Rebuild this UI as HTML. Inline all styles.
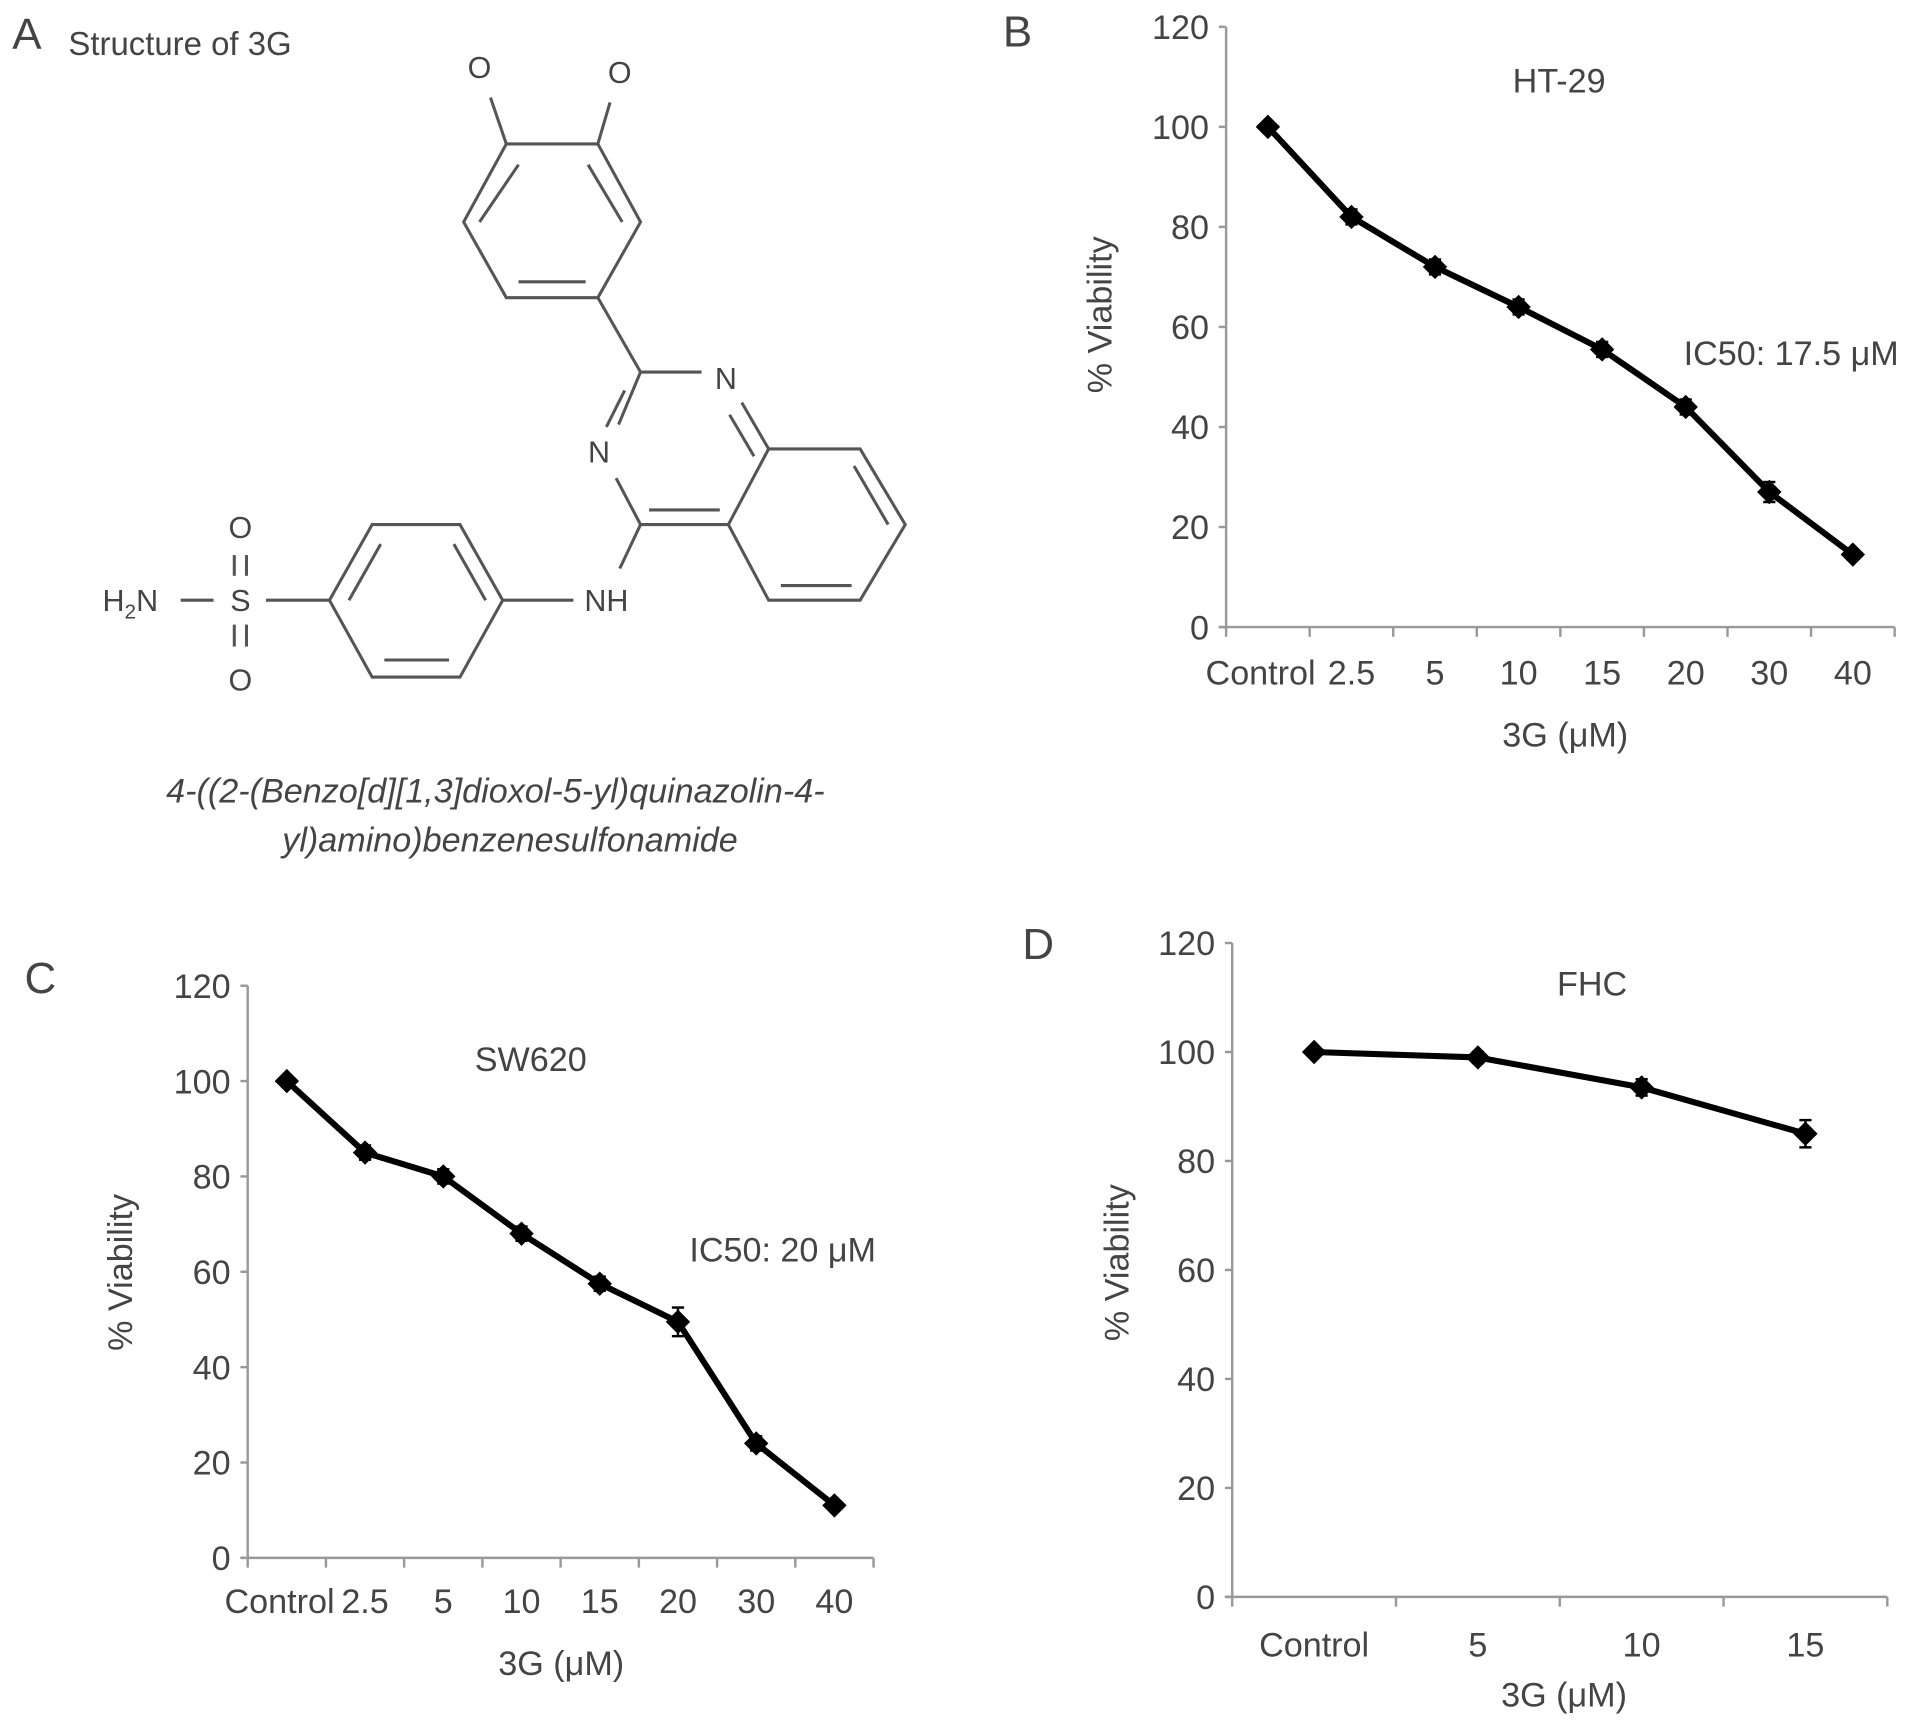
<!DOCTYPE html>
<html><head><meta charset="utf-8">
<style>
html,body{margin:0;padding:0;background:#fff;}
svg{display:block;}
text{font-family:"Liberation Sans",sans-serif;fill:#444;}
</style></head>
<body>
<svg id="fig" width="1913" height="1725" viewBox="0 0 1568 1414" xmlns="http://www.w3.org/2000/svg">
<g id="panelA">
 <text x="10" y="40" font-size="36">A</text>
 <text x="56" y="45" font-size="27">Structure of 3G</text>
 <g stroke="#555" stroke-width="2.5" fill="none">
  <polygon points="415,118 490,118 525,182 490,244 415,244 380,182"/>
  <line x1="425" y1="135" x2="393" y2="182"/><line x1="482" y1="135" x2="510" y2="182"/><line x1="425" y1="231" x2="480" y2="231"/>
  <line x1="415" y1="118" x2="402" y2="80"/><line x1="490" y1="118" x2="500" y2="84"/>
  <line x1="490" y1="244" x2="525" y2="305"/>
  <line x1="525" y1="305" x2="575" y2="305"/>
  <line x1="525" y1="305" x2="507" y2="348"/><line x1="512" y1="320" x2="497" y2="350"/>
  <line x1="505" y1="392" x2="525" y2="430"/>
  <line x1="525" y1="430" x2="597" y2="430"/><line x1="532" y1="418" x2="590" y2="418"/>
  <line x1="608" y1="330" x2="630" y2="368"/><line x1="598" y1="340" x2="618" y2="374"/>
  <polygon points="630,368 705,368 742,430 705,492 630,492 597,430"/>
  <line x1="700" y1="382" x2="728" y2="430"/><line x1="640" y1="480" x2="698" y2="480"/>
  <line x1="525" y1="430" x2="508" y2="466"/>
  <line x1="412" y1="492" x2="470" y2="492"/>
  <polygon points="412,492 377,430 305,430 270,492 305,555 377,555"/>
  <line x1="372" y1="446" x2="398" y2="492"/><line x1="312" y1="446" x2="286" y2="492"/><line x1="315" y1="541" x2="368" y2="541"/>
  <line x1="218" y1="492" x2="270" y2="492"/>
  <line x1="148" y1="492" x2="175" y2="492"/>
  <line x1="192" y1="455" x2="192" y2="472"/><line x1="202" y1="455" x2="202" y2="472"/>
  <line x1="192" y1="512" x2="192" y2="530"/><line x1="202" y1="512" x2="202" y2="530"/>
 </g>
 <g font-size="25">
  <text x="393" y="64" text-anchor="middle">O</text>
  <text x="508" y="68" text-anchor="middle">O</text>
  <text x="595" y="319" text-anchor="middle">N</text>
  <text x="491" y="379" text-anchor="middle">N</text>
  <text x="497" y="501" text-anchor="middle">NH</text>
  <text x="197" y="501" text-anchor="middle">S</text>
  <text x="197" y="441" text-anchor="middle">O</text>
  <text x="197" y="566" text-anchor="middle">O</text>
  <text x="84" y="501">H<tspan font-size="17" dy="6">2</tspan><tspan dy="-6">N</tspan></text>
 </g>
 <text x="406" y="658" font-size="28" font-style="italic" text-anchor="middle">4-((2-(Benzo[d][1,3]dioxol-5-yl)quinazolin-4-</text>
 <text x="418" y="698" font-size="28" font-style="italic" text-anchor="middle">yl)amino)benzenesulfonamide</text>
</g>
</svg>
<script>
const catsB = ["Control","2.5","5","10","15","20","30","40"];
const valsB = [100,82,72,64,55.5,44,27,14.5];
const errB = [1,1.5,1.5,1.5,1.5,1.5,2,1];
const catsC = ["Control","2.5","5","10","15","20","30","40"];
const valsC = [100,85,80,68,57.5,49.5,24,11];
const errC = [1,1.5,1.5,1.5,1.5,3,1.5,1];
const catsD = ["Control","5","10","15"];
const valsD = [100,99,93.5,85];
const errD = [0.8,1,1.5,2.5];
const yTicks = [0,20,40,60,80,100,120];

const NS = "http://www.w3.org/2000/svg";
const svg = document.getElementById('fig');
const FS = 28;
function mk(tag, attrs, parent){const e=document.createElementNS(NS,tag);for(const k in attrs)e.setAttribute(k,attrs[k]);(parent||svg).appendChild(e);return e;}

function chart(cfg, cats, vals, errs){
 const g = mk('g',{});
 
 
 const yS = v => cfg.y0 + (cfg.y120 - cfg.y0) * v / 120;
 const bw = (cfg.x1 - cfg.x0) / cats.length;
 const xS = i => cfg.x0 + bw * (i + 0.5);
 const yax = mk('line',{x1:cfg.x0,y1:yS(120),x2:cfg.x0,y2:yS(0),stroke:'#999','stroke-width':2},g);
 
 
 const xax = mk('line',{x1:cfg.x0-6,y1:yS(0),x2:cfg.x1,y2:yS(0),stroke:'#999','stroke-width':2},g);
 
 
 yTicks.forEach(t=>{
  mk('line',{x1:cfg.x0-6,y1:yS(t),x2:cfg.x0,y2:yS(t),stroke:'#999','stroke-width':2},g);
  const tx = mk('text',{x:cfg.x0-14,y:yS(t)+10,'font-size':FS,'text-anchor':'end'},g);
  tx.textContent = t;
  
  
 });
 for(let i=0;i<=cats.length;i++){
  const x = cfg.x0 + bw*i;
  mk('line',{x1:x,y1:yS(0),x2:x,y2:yS(0)+8,stroke:'#999','stroke-width':2},g);
 }
 cats.forEach((c,i)=>{
  const tx = mk('text',{x:xS(i)+(i===0&&cats.length>4?-6:0),y:yS(0)+cfg.lblOff,'font-size':FS,'text-anchor':'middle'},g);
  tx.textContent = c;
  
  
 });
 const pts = vals.map((v,i)=>xS(i)+','+yS(v)).join(' ');
 const line = mk('polyline',{points:pts,fill:'none',stroke:'#000','stroke-width':5,'stroke-linejoin':'round'},g);
 
 
 vals.forEach((v,i)=>{
  const x=xS(i), y=yS(v), e=errs[i];
  mk('line',{x1:x,y1:yS(v+e),x2:x,y2:yS(v-e),stroke:'#000','stroke-width':2},g);
  mk('line',{x1:x-5,y1:yS(v+e),x2:x+5,y2:yS(v+e),stroke:'#000','stroke-width':2},g);
  mk('line',{x1:x-5,y1:yS(v-e),x2:x+5,y2:yS(v-e),stroke:'#000','stroke-width':2},g);
  const m = mk('polygon',{points:`${x},${y-10} ${x+10},${y} ${x},${y+10} ${x-10},${y}`,fill:'#000'},g);
  
  
 });
 const t1 = mk('text',{x:cfg.titleX,y:cfg.titleY,'font-size':FS,'text-anchor':'middle'},g);
 t1.textContent = cfg.title;
 
 
 if(cfg.ic50){
  const t2 = mk('text',{x:cfg.icX,y:cfg.icY,'font-size':FS},g);
  t2.textContent = cfg.ic50;
  
  
 }
 const yt = mk('text',{x:cfg.ytX,y:cfg.ytY,'font-size':FS,'text-anchor':'middle',transform:`rotate(-90 ${cfg.ytX} ${cfg.ytY})`},g);
 yt.textContent = '% Viability';
 
 
 const xt = mk('text',{x:cfg.xtX,y:cfg.xtY,'font-size':FS,'text-anchor':'middle'},g);
 xt.textContent = '3G (\u03bcM)';
 
 
 const pl = mk('text',{x:cfg.plX,y:cfg.plY,'font-size':36},g);
 pl.textContent = cfg.panel;
 
 
}

chart({name:'chart-b-ht29',x0:1005,x1:1553,y0:514,y120:22,lblOff:47,title:'HT-29',titleX:1278,titleY:76,ic50:'IC50: 17.5 \u03bcM',icX:1380,icY:299,ytX:911,ytY:258,xtX:1283,xtY:612,panel:'B',plX:822,plY:38},catsB,valsB,errB);
chart({name:'chart-c-sw620',x0:203,x1:716,y0:1277,y120:808,lblOff:45,title:'SW620',titleX:435,titleY:878,ic50:'IC50: 20 \u03bcM',icX:565,icY:1034,ytX:108,ytY:1043,xtX:460,xtY:1373,panel:'C',plX:20,plY:814},catsC,valsC,errC);
chart({name:'chart-d-fhc',x0:1010,x1:1547,y0:1309,y120:773,lblOff:49,title:'FHC',titleX:1305,titleY:816,ic50:null,ytX:925,ytY:1035,xtX:1282,xtY:1399,panel:'D',plX:838,plY:786},catsD,valsD,errD);
</script>
</body></html>
